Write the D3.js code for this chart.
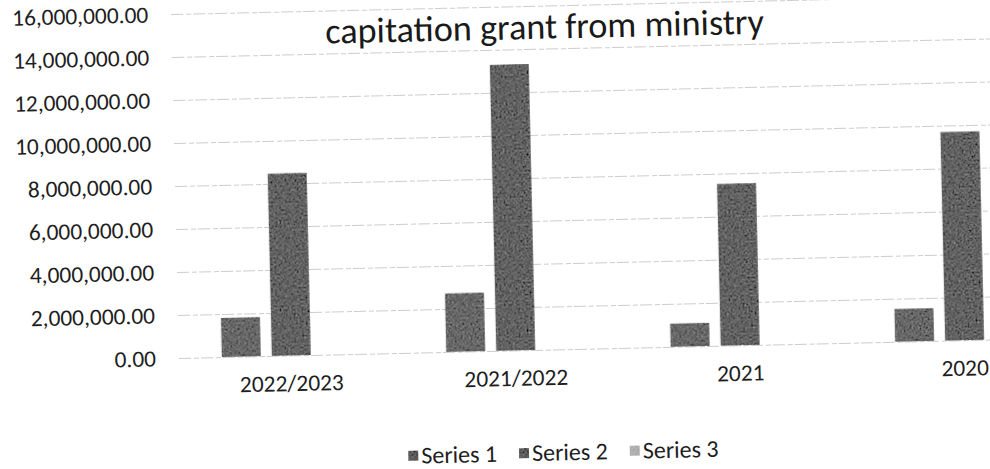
<!DOCTYPE html>
<html>
<head>
<meta charset="utf-8">
<script src="https://cdn.jsdelivr.net/npm/d3@7"></script>
<style>
  body { margin: 0; background: #fff; }
  svg { display: block; font-family: Carlito, Calibri, Lato, sans-serif; }
</style>
</head>
<body>
<script>
// categories and series values
const categories = ["2022/2023", "2021/2022", "2021", "2020"];
const seriesNames = ["Series 1", "Series 2", "Series 3"];
const series1 = [1820000, 2720000, 1080000, 1520000];
const series2 = [8480000, 13300000, 7520000, 9700000];
const series3 = [null, null, null, null];
const yTicks = [0, 2000000, 4000000, 6000000, 8000000, 10000000, 12000000, 14000000, 16000000];
const seriesColors = ["#5e5e5e", "#585858", "#ababab"];

const width = 990, height = 469;
// plot area (drawn straight, then the whole sheet is tilted a little)
const plot = {left: 179, right: 1077, top: 14, bottom: 358};
const tilt = -1.3;

const svg = d3.select("body")
    .append("svg")
    .attr("width", width)
    .attr("height", height);

// grainy toner texture for the dark fills
const grain = svg.append("defs").append("filter")
    .attr("id", "grain");
grain.append("feTurbulence")
    .attr("type", "fractalNoise")
    .attr("baseFrequency", 0.5)
    .attr("numOctaves", 2)
    .attr("seed", 7)
    .attr("result", "n");
grain.append("feColorMatrix")
    .attr("in", "n")
    .attr("type", "matrix")
    .attr("values", "0.33 0.33 0.33 0 0  0.33 0.33 0.33 0 0  0.33 0.33 0.33 0 0  0 0 0 0 1")
    .attr("result", "g");
grain.append("feComposite")
    .attr("in", "SourceGraphic")
    .attr("in2", "g")
    .attr("operator", "arithmetic")
    .attr("k2", 1).attr("k3", 0.65).attr("k4", -0.3)
    .attr("result", "mix");
grain.append("feComposite")
    .attr("in", "mix")
    .attr("in2", "SourceGraphic")
    .attr("operator", "in");

const chart = svg.append("g")
    .attr("transform", `rotate(${tilt}, ${plot.left}, ${plot.bottom})`);

// scales
const x0 = d3.scaleBand()
    .domain(categories)
    .range([plot.left, plot.right]);

const x1 = d3.scaleBand()
    .domain(seriesNames)
    .range([0, x0.bandwidth()])
    .paddingInner(0.22)
    .paddingOuter(0.855);

const y = d3.scaleLinear()
    .domain([0, 16000000])
    .range([plot.bottom, plot.top]);

const color = d3.scaleOrdinal(seriesNames, seriesColors);

// value axis + gridlines
chart.append("g")
    .attr("transform", `translate(${plot.left},0)`)
    .call(d3.axisLeft(y)
        .tickValues(yTicks)
        .tickFormat(d3.format(",.2f"))
        .tickSize(-(plot.right - plot.left))
        .tickPadding(23))
    .call(g => g.select(".domain").remove())
    .call(g => g.selectAll(".tick line")
        .attr("stroke", "#cdcdcd")
        .attr("stroke-dasharray", "12,3,5,2"))
    .call(g => g.selectAll(".tick text")
        .attr("fill", "#1e1e1e")
        .attr("font-size", 23.4)
        .attr("font-family", "Carlito, Calibri, Lato, sans-serif"));

// category axis
chart.append("g")
    .attr("transform", `translate(0,${plot.bottom})`)
    .call(d3.axisBottom(x0).tickSize(0).tickPadding(19))
    .call(g => g.select(".domain").remove())
    .call(g => g.selectAll(".tick text")
        .attr("fill", "#1e1e1e")
        .attr("font-size", 23.4)
        .attr("font-family", "Carlito, Calibri, Lato, sans-serif"));

// bars
const rows = categories.map((c, i) => ({
    cat: c,
    values: [series1[i], series2[i], series3[i]].map((v, j) => ({key: seriesNames[j], value: v}))
}));

chart.append("g")
    .selectAll("g")
    .data(rows)
    .join("g")
    .attr("transform", d => `translate(${x0(d.cat)},0)`)
    .selectAll("rect")
    .data(d => d.values.filter(v => v.value != null))
    .join("rect")
    .attr("x", d => x1(d.key))
    .attr("width", x1.bandwidth())
    .attr("y", d => y(d.value))
    .attr("height", d => y(0) - y(d.value))
    .attr("fill", d => color(d.key))
    .attr("filter", "url(#grain)");

// title
chart.append("text")
    .attr("x", 552)
    .attr("y", 47)
    .attr("text-anchor", "middle")
    .attr("font-size", 36.2)
    .attr("fill", "#1a1a1a")
    .text("capitation grant from ministry");

// legend
const legend = chart.append("g")
    .attr("transform", "translate(406,462)");
let cursor = 0;
seriesNames.forEach(name => {
    const item = legend.append("g").attr("transform", `translate(${cursor},0)`);
    item.append("rect")
        .attr("x", 0)
        .attr("y", -6)
        .attr("width", 10)
        .attr("height", 10)
        .attr("fill", name === "Series 3" ? color(name) : "#505050")
        .attr("filter", "url(#grain)");
    const label = item.append("text")
        .attr("x", 13)
        .attr("y", 7)
        .attr("font-size", 24)
        .attr("fill", "#1e1e1e")
        .text(name);
    cursor += 13 + label.node().getComputedTextLength() + 22;
});
</script>
</body>
</html>
